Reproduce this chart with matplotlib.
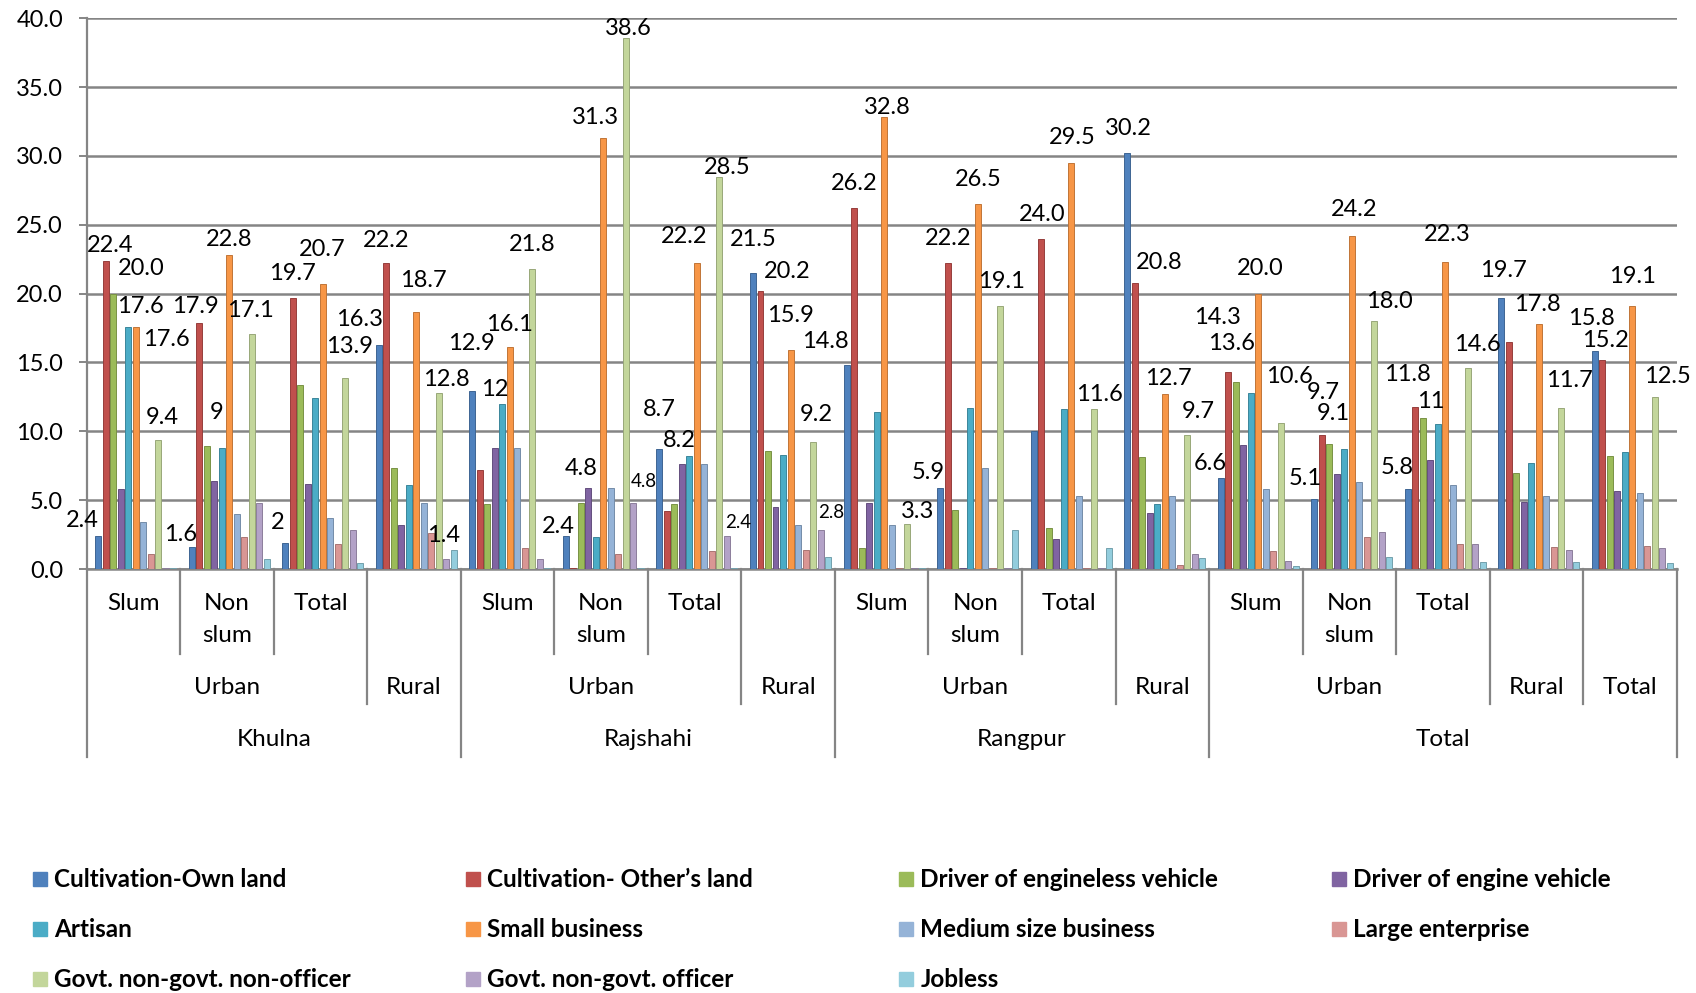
import numpy as np
import matplotlib.pyplot as plt
import matplotlib.transforms as mtransforms
from matplotlib.patches import Rectangle

plt.rcParams['font.family'] = ['Lato', 'DejaVu Sans']

# ------------------------------------------------------------------------------
# DATA
# ------------------------------------------------------------------------------
divisions = ["Khulna"] * 4 + ["Rajshahi"] * 4 + ["Rangpur"] * 4 + ["Total"] * 5
areas = (["Urban"] * 3 + ["Rural"]) * 3 + ["Urban"] * 3 + ["Rural", "Total"]
subareas = ["Slum", "Non\nslum", "Total", ""] * 3 + ["Slum", "Non\nslum", "Total", "", ""]

series_names = ["Cultivation-Own land", "Cultivation- Other\u2019s land",
                "Driver of engineless vehicle", "Driver of engine vehicle",
                "Artisan", "Small business", "Medium size business",
                "Large enterprise", "Govt. non-govt. non-officer",
                "Govt. non-govt. officer", "Jobless"]

own_land = [2.4, 1.6, 1.9, 16.3, 12.9, 2.4, 8.7, 21.5, 14.8, 5.9, 10.0, 30.2, 6.6, 5.1, 5.8, 19.7, 15.8]
others_land = [22.4, 17.9, 19.7, 22.2, 7.2, 0.1, 4.2, 20.2, 26.2, 22.2, 24.0, 20.8, 14.3, 9.7, 11.8, 16.5, 15.2]
engineless = [20.0, 8.9, 13.4, 7.3, 4.7, 4.8, 4.7, 8.6, 1.5, 4.3, 3.0, 8.1, 13.6, 9.1, 11.0, 7.0, 8.2]
engine = [5.8, 6.4, 6.2, 3.2, 8.8, 5.9, 7.6, 4.5, 4.8, 0.1, 2.2, 4.1, 9.0, 6.9, 7.9, 4.9, 5.7]
artisan = [17.6, 8.8, 12.4, 6.1, 12.0, 2.3, 8.2, 8.3, 11.4, 11.7, 11.6, 4.7, 12.8, 8.7, 10.5, 7.7, 8.5]
small_business = [17.6, 22.8, 20.7, 18.7, 16.1, 31.3, 22.2, 15.9, 32.8, 26.5, 29.5, 12.7, 20.0, 24.2, 22.3, 17.8, 19.1]
medium_business = [3.4, 4.0, 3.7, 4.8, 8.8, 5.9, 7.6, 3.2, 3.2, 7.3, 5.3, 5.3, 5.8, 6.3, 6.1, 5.3, 5.5]
large_enterprise = [1.1, 2.3, 1.8, 2.6, 1.5, 1.1, 1.3, 1.4, 0.1, 0.1, 0.1, 0.3, 1.3, 2.3, 1.8, 1.6, 1.7]
non_officer = [9.4, 17.1, 13.9, 12.8, 21.8, 38.6, 28.5, 9.2, 3.3, 19.1, 11.6, 9.7, 10.6, 18.0, 14.6, 11.7, 12.5]
officer = [0.1, 4.8, 2.8, 0.7, 0.7, 4.8, 2.4, 2.8, 0.1, 0.1, 0.1, 1.1, 0.6, 2.7, 1.8, 1.4, 1.5]
jobless = [0.1, 0.7, 0.4, 1.4, 0.1, 0.1, 0.1, 0.9, 0.1, 2.8, 1.5, 0.8, 0.2, 0.9, 0.5, 0.5, 0.4]

series_values = [own_land, others_land, engineless, engine, artisan, small_business,
                 medium_business, large_enterprise, non_officer, officer, jobless]

# etiquetas de valor: (grupo, serie, texto)
value_labels = [
    (0, 0, "2.4"), (0, 1, "22.4"), (0, 2, "20.0"), (0, 4, "17.6"), (0, 5, "17.6"), (0, 8, "9.4"),
    (1, 0, "1.6"), (1, 1, "17.9"), (1, 2, "9"), (1, 5, "22.8"), (1, 8, "17.1"),
    (2, 0, "2"), (2, 1, "19.7"), (2, 5, "20.7"), (2, 8, "13.9"),
    (3, 0, "16.3"), (3, 1, "22.2"), (3, 5, "18.7"), (3, 8, "12.8"), (3, 10, "1.4"),
    (4, 0, "12.9"), (4, 4, "12"), (4, 5, "16.1"), (4, 8, "21.8"),
    (5, 0, "2.4"), (5, 2, "4.8"), (5, 5, "31.3"), (5, 8, "38.6"), (5, 9, "4.8"),
    (6, 0, "8.7"), (6, 4, "8.2"), (6, 5, "22.2"), (6, 8, "28.5"), (6, 9, "2.4"),
    (7, 0, "21.5"), (7, 1, "20.2"), (7, 5, "15.9"), (7, 8, "9.2"), (7, 9, "2.8"),
    (8, 0, "14.8"), (8, 1, "26.2"), (8, 5, "32.8"), (8, 8, "3.3"),
    (9, 0, "5.9"), (9, 1, "22.2"), (9, 5, "26.5"), (9, 8, "19.1"),
    (10, 1, "24.0"), (10, 5, "29.5"), (10, 8, "11.6"),
    (11, 0, "30.2"), (11, 1, "20.8"), (11, 5, "12.7"), (11, 8, "9.7"),
    (12, 0, "6.6"), (12, 1, "14.3"), (12, 2, "13.6"), (12, 5, "20.0"), (12, 8, "10.6"),
    (13, 0, "5.1"), (13, 1, "9.7"), (13, 2, "9.1"), (13, 5, "24.2"), (13, 8, "18.0"),
    (14, 0, "5.8"), (14, 1, "11.8"), (14, 2, "11"), (14, 5, "22.3"), (14, 8, "14.6"),
    (15, 0, "19.7"), (15, 5, "17.8"), (15, 8, "11.7"),
    (16, 0, "15.8"), (16, 1, "15.2"), (16, 5, "19.1"), (16, 8, "12.5"),
]

# ------------------------------------------------------------------------------
# ESTILO / POSICIÓN DE ETIQUETAS (desplazamiento en px: dx, altura sobre la barra)
# ------------------------------------------------------------------------------
label_nudge = [
    (-16, 15), (4, 15), (28, 25), (12, 20), (31, -13), (4, 22),
    (-11, 12), (-4, 16), (10, 34), (0, 16), (-1, 23),
    (-8, 20), (0, 24), (-1, 35), (4, 31),
    (-19, 25), (0, 23), (7, 31), (7, 13), (-10, 14),
    (-1, 48), (-8, 14), (0, 23), (0, 24),
    (-8, 9), (0, 34), (-8, 21), (2, 9), (10, 21),
    (0, 40), (-10, 16), (-13, 27), (8, 9), (11, 13),
    (0, 33), (27, 19), (0, 35), (3, 28), (11, 18),
    (-21, 24), (0, 25), (3, 10), (11, 12),
    (-12, 15), (1, 25), (1, 25), (1, 25),
    (1, 24), (1, 25), (6, 15),
    (1, 25), (25, 20), (4, 16), (11, 24),
    (-10, 15), (-11, 55), (-4, 38), (2, 25), (9, 47),
    (-9, 20), (2, 43), (4, 30), (2, 26), (15, 20),
    (-11, 22), (-8, 32), (8, 16), (2, 27), (10, 23),
    (2, 27), (-1, 19), (8, 27),
    (-3, 33), (3, 19), (0, 30), (13, 20),
]
small_labels = {(5, 9), (6, 9), (7, 9)}

colors = ["#4F81BD", "#C0504D", "#9BBB59", "#8064A2", "#4BACC6", "#F79646",
          "#95B3D7", "#D99694", "#C3D69B", "#B3A2C7", "#93CDDD"]
grid_color = "#858585"

W, H = 1696, 993
fig = plt.figure(figsize=(W / 100, H / 100), dpi=100)
ax = fig.add_axes([86.7 / W, 1 - 569 / H, 1590 / W, (569 - 18.3) / H])

n_groups = len(divisions)
x = np.arange(n_groups)
step = 0.0802
bar_w = 0.064

for k, (vals, col) in enumerate(zip(series_values, colors)):
    ec = tuple(c * 0.78 for c in plt.matplotlib.colors.to_rgb(col))
    ax.bar(x - 0.376 + k * step, vals, width=bar_w, color=col,
           edgecolor=ec, linewidth=0.7, zorder=3)

# etiquetas de valor
px2pt = 72 / 100
for (g, k, txt), (dx, up) in zip(value_labels, label_nudge):
    v = series_values[k][g]
    fs = 13.5 if (g, k) in small_labels else 17
    ax.annotate(txt, (g - 0.376 + k * step, v), xytext=(dx * px2pt, up * px2pt),
                textcoords="offset points", ha="center", va="center",
                fontsize=fs, color="black", zorder=5, annotation_clip=False)

# ejes
ax.set_xlim(-0.5, n_groups - 0.5)
ax.set_ylim(0, 40)
ax.set_yticks(np.arange(0, 41, 5))
ax.set_yticklabels([f"{t:.1f}" for t in np.arange(0, 41, 5)])
ax.yaxis.grid(True, color=grid_color, linewidth=1.8)
ax.set_axisbelow(True)
ax.set_xticks([])
for s in ["top", "right"]:
    ax.spines[s].set_visible(False)
ax.spines["left"].set_color(grid_color)
ax.spines["left"].set_linewidth(1.6)
ax.spines["bottom"].set_color(grid_color)
ax.spines["bottom"].set_linewidth(1.8)
ax.tick_params(axis="y", length=6, width=1.4, color=grid_color, pad=11, labelsize=17)

# ejes de categorías jerárquicas
blend = mtransforms.blended_transform_factory(ax.transData, fig.transFigure)
fy = lambda ypx: 1 - ypx / H
y_axis = 569
for b in range(n_groups + 1):
    if b == 0 or b == n_groups or divisions[b] != divisions[b - 1]:
        depth = 757
    elif areas[b] != areas[b - 1]:
        depth = 704
    else:
        depth = 654
    ax.plot([b - 0.5, b - 0.5], [fy(y_axis), fy(depth)], transform=blend,
            color=grid_color, linewidth=1.6, clip_on=False)

for g, lab in enumerate(subareas):
    for i, line in enumerate(lab.split("\n")):
        if line:
            ax.text(g, fy(604 + 32 * i), line, transform=blend, ha="center",
                    va="center", fontsize=17.5)


def spans(keys):
    out = []
    start = 0
    for i in range(1, len(keys) + 1):
        if i == len(keys) or keys[i] != keys[start]:
            out.append((keys[start], start, i - 1))
            start = i
    return out


for (div, area), s, e in spans(list(zip(divisions, areas))):
    ax.text((s + e) / 2, fy(688), area, transform=blend, ha="center",
            va="center", fontsize=17.5)
for div, s, e in spans(divisions):
    ax.text((s + e) / 2, fy(740), div, transform=blend, ha="center",
            va="center", fontsize=17.5)

# leyenda manual (4 columnas)
for i, (name, col) in enumerate(zip(series_names, colors)):
    r, c = divmod(i, 4)
    cx = 33.3 + 433 * c
    cy = 879.3 + 50 * r
    fig.patches.append(Rectangle((cx / W, 1 - (cy + 7) / H), 14 / W, 14 / H,
                                 transform=fig.transFigure, color=col))
    fig.text((cx + 21) / W, 1 - cy / H, name, ha="left", va="center",
             fontsize=17.5, fontweight="bold")

fig.savefig("out.png", dpi=100)
